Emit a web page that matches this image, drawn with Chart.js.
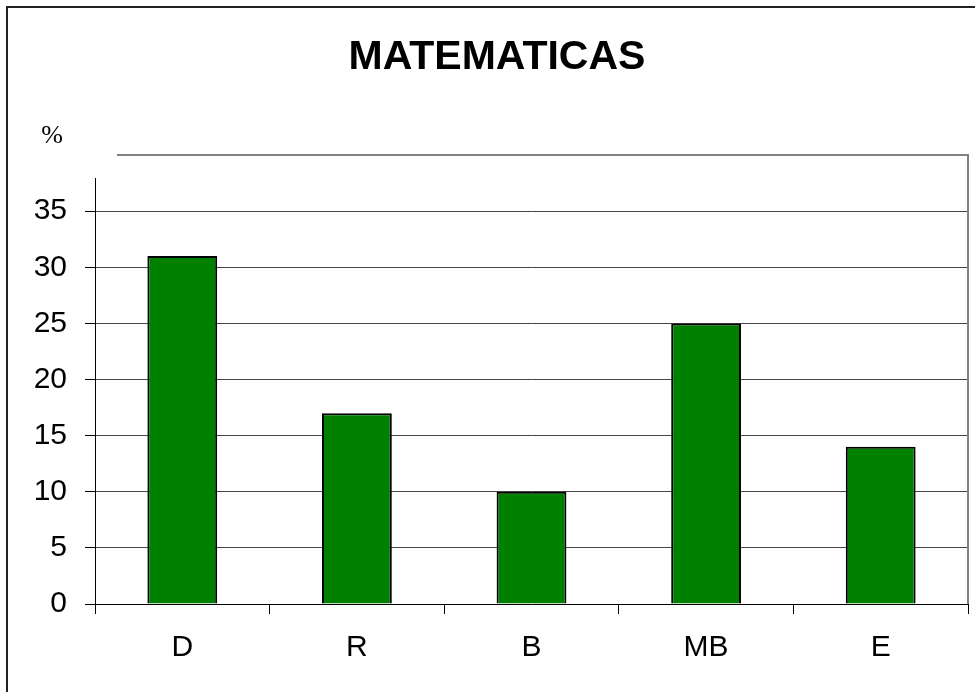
<!DOCTYPE html>
<html>
<head>
<meta charset="utf-8">
<script src="https://cdn.jsdelivr.net/npm/chart.js@4/dist/chart.umd.min.js"></script>
<style>
  html, body { margin: 0; padding: 0; background: #fff; }
  #wrap { width: 975px; height: 692px; }
</style>
</head>
<body>
<div id="wrap"><canvas id="barChart" width="975" height="692"></canvas></div>
<script>
const categories = ['D', 'R', 'B', 'MB', 'E'];
const percentages = [31, 17, 10, 25, 14];
const yTicks = [0, 5, 10, 15, 20, 25, 30, 35];

const chartTitle = 'MATEMATICAS';
const unitLabel = '%';

// frame, title and the partial plot border
const frame = {
    id: 'frame',
    beforeDraw(chart) {
        const ctx = chart.ctx;
        ctx.save();
        ctx.fillStyle = '#fff';
        ctx.fillRect(0, 0, chart.width, chart.height);

        ctx.strokeStyle = '#222';
        ctx.lineWidth = 2;
        ctx.beginPath();
        ctx.moveTo(7, chart.height);
        ctx.lineTo(7, 7);
        ctx.lineTo(chart.width, 7);
        ctx.stroke();

        ctx.fillStyle = '#000';
        ctx.font = 'bold 41px "Liberation Sans", Arial, sans-serif';
        ctx.textAlign = 'center';
        ctx.textBaseline = 'middle';
        ctx.fillText(chartTitle, 497, 58);

        ctx.font = '26px "Liberation Serif", "Times New Roman", serif';
        ctx.fillText(unitLabel, 52, 136);
        ctx.restore();
    },
    afterDatasetsDraw(chart) {
        const ctx = chart.ctx;
        const a = chart.chartArea;
        ctx.save();
        ctx.strokeStyle = '#808080';
        ctx.lineWidth = 2;
        ctx.beginPath();
        ctx.moveTo(117, a.top);
        ctx.lineTo(a.right, a.top);
        ctx.lineTo(a.right, a.bottom);
        ctx.stroke();

        ctx.strokeStyle = '#000';
        ctx.lineWidth = 1;
        ctx.beginPath();
        ctx.moveTo(a.left + 0.5, 178);
        ctx.lineTo(a.left + 0.5, a.bottom);
        ctx.moveTo(a.left, a.bottom + 0.5);
        ctx.lineTo(a.right, a.bottom + 0.5);
        ctx.stroke();
        ctx.restore();
    }
};

new Chart(document.getElementById('barChart'), {
    type: 'bar',
    data: {
        labels: categories,
        datasets: [{
            data: percentages,
            backgroundColor: '#008000',
            borderColor: '#000',
            borderWidth: 2,
            categoryPercentage: 1,
            barPercentage: 0.4
        }]
    },
    options: {
        responsive: false,
        animation: false,
        devicePixelRatio: 1,
        layout: { padding: { top: 155, right: 7, left: 0, bottom: 0 } },
        plugins: {
            legend: { display: false },
            tooltip: { enabled: false }
        },
        scales: {
            x: {
                offset: true,
                grid: {
                    offset: true,
                    drawOnChartArea: false,
                    tickLength: 10,
                    color: '#000'
                },
                border: { display: false },
                ticks: {
                    color: '#000',
                    padding: 16,
                    font: { family: '"Liberation Sans", Arial, sans-serif', size: 30 }
                },
                afterFit(scale) { scale.height = 88; }
            },
            y: {
                min: 0,
                max: 40,
                afterBuildTicks(scale) {
                    scale.ticks = yTicks.concat([40]).map(v => ({ value: v }));
                },
                grid: {
                    tickLength: 10,
                    color: ctx => (ctx.tick && (ctx.tick.value === 40 || ctx.tick.value === 0)) ? 'rgba(0,0,0,0)' : '#444',
                    tickColor: ctx => (ctx.tick && ctx.tick.value === 40) ? 'rgba(0,0,0,0)' : '#000'
                },
                border: { display: false },
                ticks: {
                    color: '#000',
                    padding: 18,
                    callback: v => (v === 40 ? '' : v),
                    font: { family: '"Liberation Sans", Arial, sans-serif', size: 30 }
                },
                afterFit(scale) { scale.width = 95; }
            }
        }
    },
    plugins: [frame]
});
</script>
</body>
</html>
